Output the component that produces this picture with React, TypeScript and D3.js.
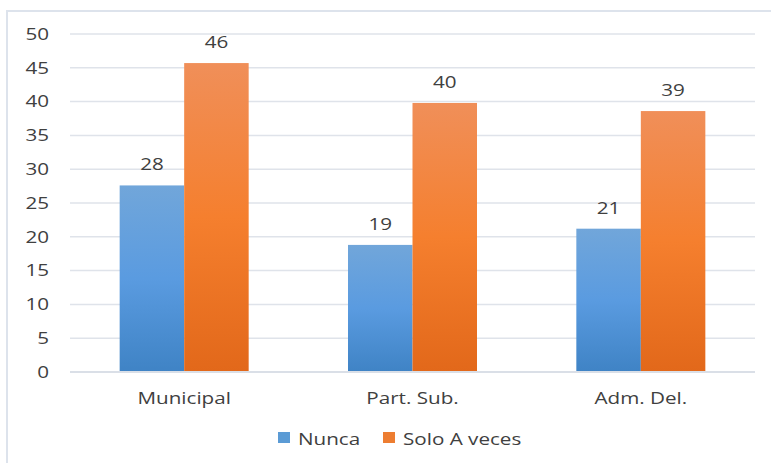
import React, { useEffect, useRef } from 'react'
import * as d3 from 'd3'

const categories = ['Municipal', 'Part. Sub.', 'Adm. Del.']
const seriesNames = ['Nunca', 'Solo A veces']
const nunca = [27.6, 18.8, 21.2]
const soloAVeces = [45.7, 39.8, 38.6]
const yTicks = [0, 5, 10, 15, 20, 25, 30, 35, 40, 45, 50]

const FONT = '"Open Sans", sans-serif'
const SX = 1.29 // source text is horizontally stretched

const App = () => {
  const chartRef = useRef<SVGSVGElement>(null)

  useEffect(() => {
    const width = 771
    const height = 463
    const left = 70
    const right = 755
    const top = 34
    const bottom = 372

    const svg = d3.select(chartRef.current).attr('width', width).attr('height', height)
    svg.selectAll('*').remove()

    const defs = svg.append('defs')
    const grads = [
      { id: 'gBlue', stops: ['#71a6da', '#5a9be0', '#3f83c5'] },
      { id: 'gOrange', stops: ['#f08f59', '#f57f2e', '#e2681a'] },
    ]
    grads.forEach((g) => {
      const lg = defs.append('linearGradient').attr('id', g.id).attr('x1', 0).attr('y1', 0).attr('x2', 0).attr('y2', 1)
      g.stops.forEach((c, i) => lg.append('stop').attr('offset', `${i * 50}%`).attr('stop-color', c))
    })

    // outer frame
    svg
      .append('rect')
      .attr('x', 7)
      .attr('y', 11)
      .attr('width', 800)
      .attr('height', 500)
      .attr('fill', 'white')
      .attr('stroke', '#dde3ec')
      .attr('stroke-width', 2)

    const y = d3.scaleLinear().domain([0, 50]).range([bottom, top])
    const x0 = d3.scaleBand().domain(categories).range([left, right]).padding(0)
    const x1 = d3.scaleBand().domain(seriesNames).range([0, x0.bandwidth()]).paddingInner(0).paddingOuter(0.77)
    const color = d3.scaleOrdinal<string>().domain(seriesNames).range(['url(#gBlue)', 'url(#gOrange)'])
    const legendColor = d3.scaleOrdinal<string>().domain(seriesNames).range(['#5b9bd5', '#ed7d31'])

    // gridlines
    svg
      .append('g')
      .selectAll('line')
      .data(yTicks)
      .join('line')
      .attr('x1', left)
      .attr('x2', right)
      .attr('y1', (d) => y(d))
      .attr('y2', (d) => y(d))
      .attr('stroke', '#dfe3ea')
      .attr('stroke-width', 1.5)

    // y tick labels
    svg
      .append('g')
      .selectAll('text')
      .data(yTicks)
      .join('text')
      .attr('transform', (d) => `translate(49,${y(d)}) scale(${SX},1)`)
      .attr('text-anchor', 'end')
      .attr('dy', '0.36em')
      .attr('font-family', FONT)
      .attr('font-size', 16)
      .attr('fill', '#404040')
      .text((d) => d)

    const rows = categories.map((c, i) => ({
      category: c,
      values: [
        { key: seriesNames[0], value: nunca[i] },
        { key: seriesNames[1], value: soloAVeces[i] },
      ],
    }))

    const groups = svg
      .append('g')
      .selectAll('g')
      .data(rows)
      .join('g')
      .attr('transform', (d) => `translate(${x0(d.category)},0)`)

    groups
      .selectAll('rect')
      .data((d) => d.values)
      .join('rect')
      .attr('x', (d) => x1(d.key)!)
      .attr('y', (d) => y(d.value))
      .attr('width', x1.bandwidth())
      .attr('height', (d) => y(0) - y(d.value))
      .attr('fill', (d) => color(d.key))

    // data labels
    groups
      .selectAll('text')
      .data((d) => d.values)
      .join('text')
      .attr('transform', (d) => `translate(${x1(d.key)! + x1.bandwidth() / 2},${y(d.value) - 15}) scale(${SX},1)`)
      .attr('text-anchor', 'middle')
      .attr('font-family', FONT)
      .attr('font-size', 16)
      .attr('fill', '#404040')
      .text((d) => Math.round(d.value))

    // x axis line
    svg
      .append('line')
      .attr('x1', left)
      .attr('x2', right)
      .attr('y1', y(0))
      .attr('y2', y(0))
      .attr('stroke', '#dadfe7')
      .attr('stroke-width', 2)

    // category labels
    svg
      .append('g')
      .selectAll('text')
      .data(categories)
      .join('text')
      .attr('transform', (d) => `translate(${x0(d)! + x0.bandwidth() / 2},404) scale(${SX},1)`)
      .attr('text-anchor', 'middle')
      .attr('font-family', FONT)
      .attr('font-size', 16)
      .attr('fill', '#404040')
      .text((d) => d)

    // legend
    const legendX = [278, 383]
    const legend = svg
      .append('g')
      .selectAll('g')
      .data(seriesNames)
      .join('g')
      .attr('transform', (d, i) => `translate(${legendX[i]},432)`)
    legend.append('rect').attr('width', 12).attr('height', 11).attr('fill', (d) => legendColor(d))
    legend
      .append('text')
      .attr('transform', `translate(20,13) scale(${SX},1)`)
      .attr('font-family', FONT)
      .attr('font-size', 16)
      .attr('fill', '#404040')
      .text((d) => d)
  }, [])

  return <svg ref={chartRef} style={{ position: 'absolute', left: 0, top: 0 }}></svg>
}

export default App
